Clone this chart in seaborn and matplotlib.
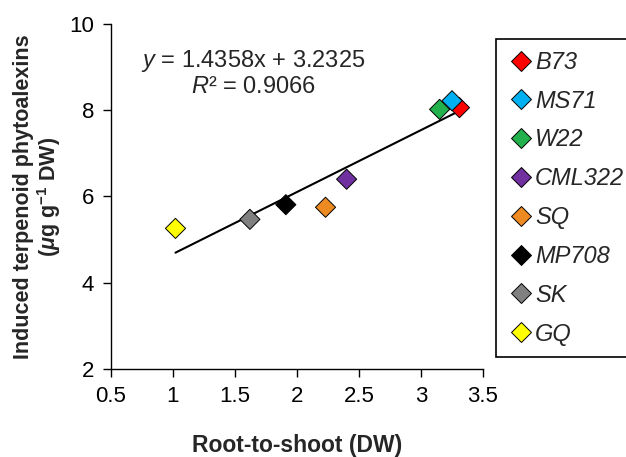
import matplotlib
matplotlib.use("Agg")
import matplotlib.pyplot as plt
import seaborn as sns
import pandas as pd

# data
lines = ["B73", "MS71", "W22", "CML322", "SQ", "MP708", "SK", "GQ"]
root_to_shoot = [3.31, 3.25, 3.15, 2.40, 2.23, 1.91, 1.62, 1.02]
phytoalexins = [8.06, 8.22, 8.02, 6.40, 5.75, 5.81, 5.47, 5.26]
colors = ["#FF0000", "#00B0F0", "#22B14C", "#7030A0", "#EE8A22", "#000000", "#808080", "#FFFF00"]

# fit reported on the chart
slope = 1.4358
intercept = 3.2325
r_squared = 0.9066

df = pd.DataFrame({"line": lines, "x": root_to_shoot, "y": phytoalexins})

sns.set_style("ticks")
plt.rcParams["font.family"] = ["Liberation Sans", "DejaVu Sans"]
plt.rcParams["mathtext.fontset"] = "custom"
plt.rcParams["mathtext.rm"] = "Liberation Sans"
plt.rcParams["mathtext.it"] = "Liberation Sans:italic"
plt.rcParams["mathtext.bf"] = "Liberation Sans:bold"
plt.rcParams["mathtext.bfit"] = "Liberation Sans:italic:bold"

fig = plt.figure(figsize=(6.26, 4.57), dpi=100)
ax = fig.add_axes([0.1773, 0.1926, 0.5943, 0.7549])

# trend line over the data range
xmin, xmax = min(root_to_shoot), max(root_to_shoot)
ax.plot([xmin, xmax], [slope * xmin + intercept, slope * xmax + intercept],
        color="black", lw=1.5, zorder=1)

sns.scatterplot(data=df, x="x", y="y", hue="line", hue_order=lines,
                palette=dict(zip(lines, colors)), marker="D", s=105,
                edgecolor="black", linewidth=0.7, ax=ax, zorder=3)

ax.set_xlim(0.5, 3.5)
ax.set_ylim(2, 10)
ax.set_xticks([0.5, 1, 1.5, 2, 2.5, 3, 3.5])
ax.set_xticklabels(["0.5", "1", "1.5", "2", "2.5", "3", "3.5"])
ax.set_yticks([2, 4, 6, 8, 10])
ax.tick_params(axis="both", labelsize=16, length=6, width=1, direction="out", pad=6, colors="black")
for side in ["left", "bottom"]:
    ax.spines[side].set_linewidth(1)
    ax.spines[side].set_color("black")
sns.despine(ax=ax)

ax.set_xlabel("Root-to-shoot (DW)", fontsize=16.5, fontweight="bold", labelpad=20)
ax.set_ylabel("Induced terpenoid phytoalexins\n($\\mathbfit{\\mu}$g g$^{\\mathbf{-1}}$ DW)",
              fontsize=15.5, fontweight="bold", labelpad=5, linespacing=1.05)

ax.text(1.65, 9.14, f"$y$ = {slope}x + {intercept}", fontsize=17, ha="center", va="center")
ax.text(1.65, 8.53, f"$R$² = {r_squared}", fontsize=17, ha="center", va="center")

leg = ax.legend(loc="upper left", bbox_to_anchor=(496 / 626, 1 - 39 / 457),
                bbox_transform=fig.transFigure, prop={"style": "italic", "size": 17},
                frameon=True, fancybox=False, edgecolor="black", framealpha=1,
                labelspacing=0.67, handletextpad=0.0, borderpad=0.5, markerscale=0.95,
                borderaxespad=0, handlelength=1.15)
leg.get_frame().set_linewidth(1.2)

fig.savefig("out.png", dpi=100)
